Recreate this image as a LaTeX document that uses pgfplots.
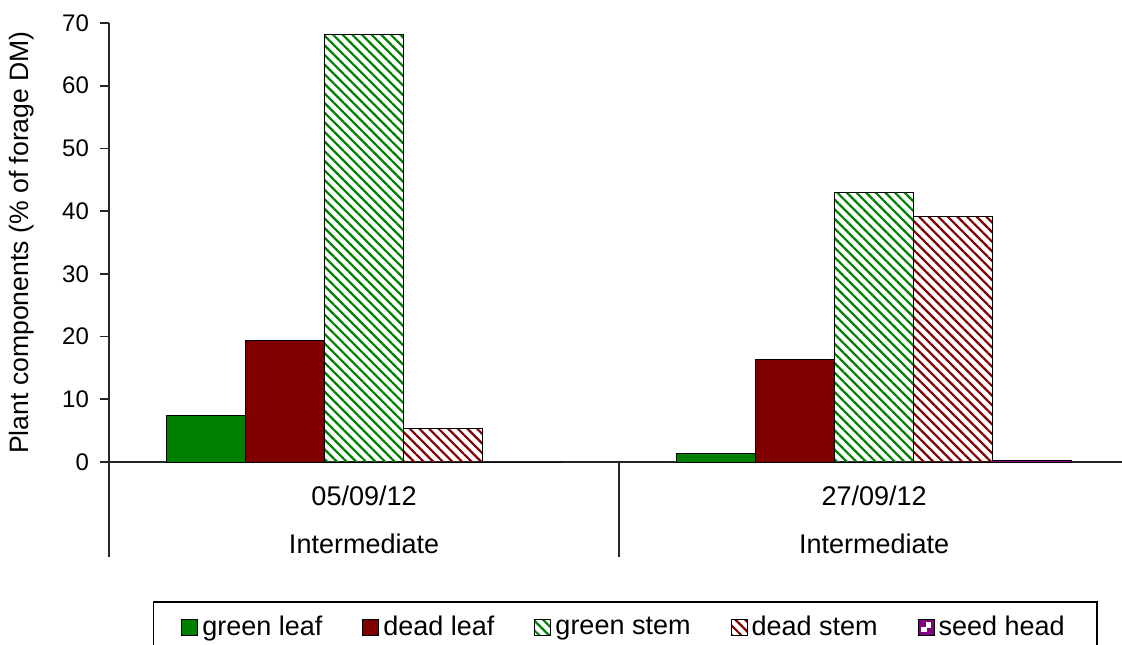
\documentclass[border=0pt]{standalone}
\usepackage{fontspec}
\setmainfont{Liberation Sans}
\usepackage{pgfplots}
\pgfplotsset{compat=1.18}
\usetikzlibrary{patterns.meta}
\definecolor{gleaf}{RGB}{0,128,0}
\definecolor{dleaf}{RGB}{128,0,0}
\definecolor{seed}{RGB}{128,0,128}
\pgfplotsset{
  sq legend/.style={legend image code/.code={\draw[##1] (0pt,-4pt) rectangle (8pt,4pt);}},
}
\begin{document}
\begin{tikzpicture}
\begin{axis}[
  at={(54.5pt,91pt)}, anchor=south west,
  scale only axis, width=506.5pt, height=219.5pt,
  xmin=-0.5, xmax=1.486, ymin=0, ymax=70,
  axis x line*=bottom, axis y line*=left,
  axis line style={-, line width=0.8pt, black!85},
  ytick={0,10,...,70},
  tick align=outside, major tick length=4.5pt,
  ytick style={line width=0.8pt, black!85},
  /pgf/number format/assume math mode=true,
  xtick={0,1}, xtick style={draw=none},
  xticklabels={{05/09/12\\Intermediate},{27/09/12\\Intermediate}},
  xticklabel style={align=center, font=\fontsize{13.5}{24}\selectfont, yshift=-4pt},
  yticklabel style={font=\fontsize{12}{14}\selectfont, xshift=-2pt},
  every axis y label/.style={at={(axis description cs:-0.0859,0.5)}, rotate=90, anchor=center, font=\fontsize{13.3}{15}\selectfont},
  ylabel={Plant components (\% of forage DM)},
  ybar, bar width=39.5pt,
  clip=false,
  legend columns=5,
  legend style={at={(axis description cs:0.5094,-0.3166)}, anchor=north, draw=black, line width=0.8pt,
    font=\fontsize{13.5}{15}\selectfont, inner xsep=14pt, inner ysep=5pt,
    /tikz/every even column/.append style={column sep=18pt},
    legend cell align=left},
]
\addplot[sq legend, bar shift=-79pt, fill=gleaf, draw=black, line width=0.5pt] coordinates {(0,7.38) (1,1.35)};
\addplot[sq legend, bar shift=-39.5pt, fill=dleaf, draw=black, line width=0.5pt] coordinates {(0,19.35) (1,16.3)};
\addplot[sq legend, bar shift=0pt, draw=black, line width=0.5pt, pattern={Lines[angle=-45, distance=3.4pt, line width=1.1pt]}, pattern color=gleaf] coordinates {(0,68.1) (1,43.05)};
\addplot[sq legend, bar shift=39.5pt, draw=black, line width=0.5pt, pattern={Lines[angle=-45, distance=3.4pt, line width=1.1pt]}, pattern color=dleaf] coordinates {(0,5.42) (1,39.2)};
\addplot[bar shift=79pt, fill=seed, draw=black, line width=0.5pt,
  legend image code/.code={\draw[fill=seed,draw=black,line width=0.5pt] (0pt,-4pt) rectangle (8pt,4pt);
    \fill[white] (4pt,0pt) rectangle (6.3pt,2.3pt); \fill[white] (1.7pt,-2.3pt) rectangle (4pt,0pt);}] coordinates {(0,0) (1,0.2)};
\legend{green leaf, dead leaf, green stem, dead stem, seed head}
\draw[line width=0.8pt, black!85] (axis cs:-0.5,0) -- ++(0pt,-47.5pt);
\draw[line width=0.8pt, black!85] (axis cs:0.5,0) -- ++(0pt,-47.5pt);
\end{axis}
\pgfresetboundingbox
\path[use as bounding box] (0pt,0pt) rectangle (561pt,322pt);
\end{tikzpicture}
\end{document}
